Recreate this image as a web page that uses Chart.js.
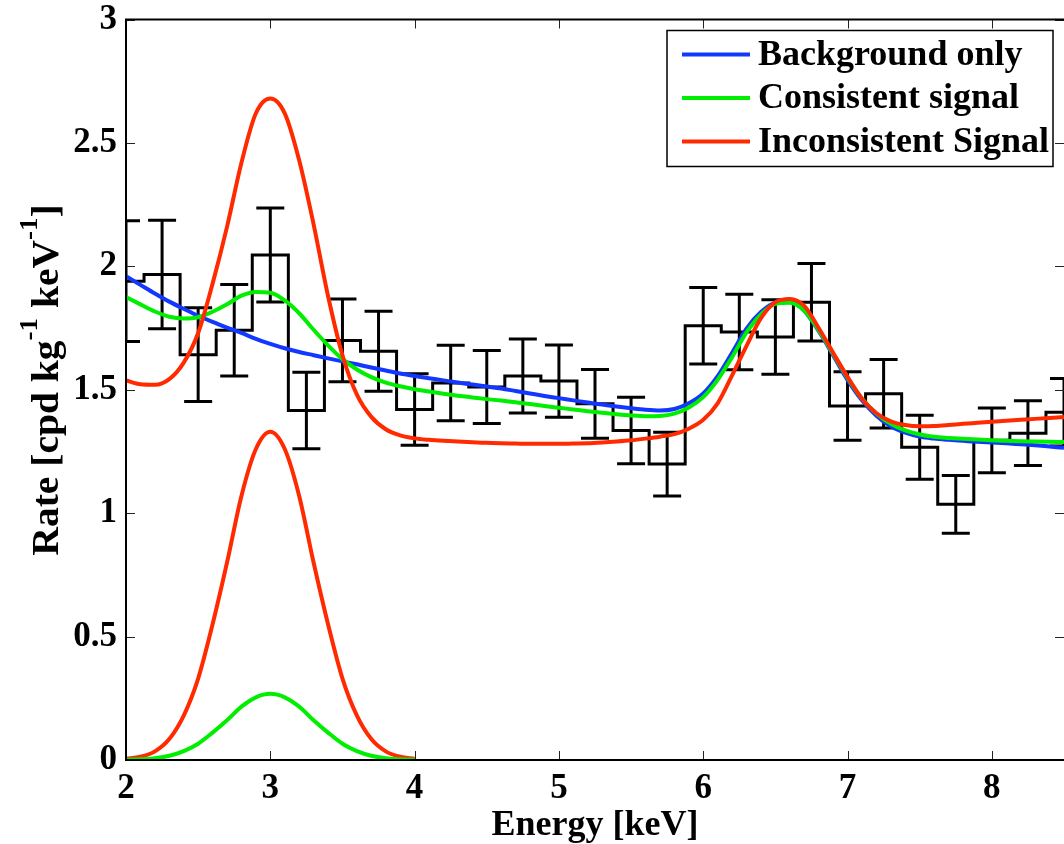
<!DOCTYPE html>
<html>
<head>
<meta charset="utf-8">
<title>Rate vs Energy</title>
<script src="https://cdn.jsdelivr.net/npm/chart.js@4.4.1/dist/chart.umd.min.js"></script>
<style>
  html, body { margin: 0; padding: 0; background: #fff; }
  canvas { display: block; }
</style>
</head>
<body>
<canvas id="spectrum" width="1064" height="844"></canvas>
<script>
// ---------------- data ----------------

// measured histogram (bin centres, rate, half error)
var binCenters = [2.00, 2.25, 2.50, 2.75, 3.00, 3.25, 3.50, 3.75, 4.00, 4.25, 4.50, 4.75, 5.00,
  5.25, 5.50, 5.75, 6.00, 6.25, 6.50, 6.75, 7.00, 7.25, 7.50, 7.75, 8.00, 8.25, 8.50];
var rates = [1.940, 1.967, 1.642, 1.741, 2.046, 1.416, 1.700, 1.656, 1.420, 1.527, 1.511, 1.556, 1.535,
  1.443, 1.335, 1.199, 1.759, 1.734, 1.714, 1.854, 1.434, 1.484, 1.267, 1.036, 1.295, 1.324, 1.409];
var rateErrors = [0.245, 0.220, 0.190, 0.185, 0.190, 0.155, 0.168, 0.162, 0.145, 0.153, 0.148, 0.150, 0.146,
  0.139, 0.135, 0.129, 0.155, 0.153, 0.151, 0.157, 0.139, 0.139, 0.130, 0.117, 0.131, 0.131, 0.137];

// model curves, sampled every 0.1 keV
var curveEnergy = [2.0, 2.1, 2.2, 2.3, 2.4, 2.5, 2.6, 2.7, 2.8, 2.9, 3.0, 3.1, 3.2, 3.3, 3.4, 3.5,
  3.6, 3.7, 3.8, 3.9, 4.0, 4.1, 4.2, 4.3, 4.4, 4.5, 4.6, 4.7, 4.8, 4.9, 5.0, 5.1, 5.2, 5.3, 5.4,
  5.5, 5.6, 5.7, 5.8, 5.9, 6.0, 6.1, 6.2, 6.3, 6.4, 6.5, 6.6, 6.7, 6.8, 6.9, 7.0, 7.1, 7.2, 7.3,
  7.4, 7.5, 7.6, 7.7, 7.8, 7.9, 8.0, 8.1, 8.2, 8.3, 8.4, 8.5];
var backgroundOnly = [1.960, 1.925, 1.890, 1.857, 1.828, 1.800, 1.775, 1.752, 1.730, 1.706, 1.686,
  1.668, 1.653, 1.640, 1.627, 1.615, 1.603, 1.590, 1.578, 1.566, 1.556, 1.547, 1.538, 1.529, 1.521,
  1.513, 1.505, 1.495, 1.485, 1.475, 1.466, 1.457, 1.448, 1.440, 1.432, 1.425, 1.419, 1.416, 1.422,
  1.445, 1.485, 1.555, 1.650, 1.748, 1.815, 1.852, 1.855, 1.820, 1.738, 1.640, 1.540, 1.457, 1.395,
  1.352, 1.326, 1.310, 1.302, 1.297, 1.293, 1.289, 1.286, 1.283, 1.279, 1.275, 1.270, 1.265];
var consistentFit = [1.876, 1.846, 1.817, 1.796, 1.789, 1.794, 1.816, 1.846, 1.881, 1.896, 1.893,
  1.862, 1.810, 1.743, 1.680, 1.624, 1.582, 1.551, 1.529, 1.514, 1.502, 1.493, 1.484, 1.476, 1.469,
  1.462, 1.456, 1.449, 1.442, 1.434, 1.427, 1.420, 1.413, 1.407, 1.401, 1.396, 1.393, 1.394, 1.403,
  1.428, 1.470, 1.540, 1.632, 1.732, 1.805, 1.848, 1.852, 1.820, 1.742, 1.646, 1.548, 1.465, 1.404,
  1.362, 1.335, 1.319, 1.310, 1.305, 1.301, 1.298, 1.295, 1.293, 1.291, 1.290, 1.289, 1.288];
var inconsistentFit = [1.538, 1.522, 1.520, 1.543, 1.610, 1.730, 1.930, 2.160, 2.420, 2.620, 2.680,
  2.620, 2.430, 2.170, 1.880, 1.640, 1.480, 1.390, 1.340, 1.315, 1.303, 1.297, 1.293, 1.290, 1.287,
  1.285, 1.283, 1.282, 1.281, 1.281, 1.281, 1.282, 1.283, 1.286, 1.290, 1.295, 1.302, 1.310, 1.320,
  1.342, 1.378, 1.445, 1.558, 1.678, 1.790, 1.855, 1.868, 1.840, 1.750, 1.650, 1.552, 1.464, 1.405,
  1.372, 1.357, 1.352, 1.353, 1.357, 1.362, 1.366, 1.370, 1.374, 1.378, 1.382, 1.386, 1.390];

// signal lines alone (2 - 4 keV)
var signalEnergy = [2.0, 2.1, 2.2, 2.3, 2.4, 2.5, 2.6, 2.7, 2.8, 2.9, 3.0, 3.1, 3.2, 3.3, 3.4, 3.5,
  3.6, 3.7, 3.8, 3.9, 4.0];
var consistentSignal = [0.001, 0.003, 0.007, 0.017, 0.036, 0.066, 0.111, 0.161, 0.216, 0.254, 0.268,
  0.254, 0.216, 0.161, 0.111, 0.066, 0.036, 0.017, 0.007, 0.003, 0.001];
var inconsistentSignal = [0.005, 0.013, 0.035, 0.085, 0.180, 0.330, 0.550, 0.800, 1.070, 1.260, 1.330,
  1.260, 1.070, 0.800, 0.550, 0.330, 0.180, 0.085, 0.035, 0.013, 0.005];

var seriesNames = ['Background only', 'Consistent signal', 'Inconsistent Signal'];
var xTicks = [2, 3, 4, 5, 6, 7, 8];
var yTicks = [0, 0.5, 1, 1.5, 2, 2.5, 3];

// ---------------- style ----------------
var BLUE = '#1238ff';
var GREEN = '#00ee00';
var RED = '#ff2a00';
var SERIF = '"Liberation Serif", "Times New Roman", "DejaVu Serif", serif';

function toPoints(xs, ys) {
  return xs.map(function (x, i) { return { x: x, y: ys[i] }; });
}

function curve(label, xs, ys, color) {
  return {
    label: label,
    data: toPoints(xs, ys),
    borderColor: color,
    backgroundColor: color,
    borderWidth: 4,
    pointRadius: 0,
    cubicInterpolationMode: 'monotone',
    fill: false
  };
}

// error bars, box, inward ticks, y title and legend
var matlabLook = {
  id: 'matlabLook',
  beforeDatasetsDraw: function (chart) {
    var ctx = chart.ctx, a = chart.chartArea;
    var xs = chart.scales.x, ys = chart.scales.y;
    ctx.save();
    ctx.beginPath();
    ctx.rect(a.left, a.top, a.right - a.left, a.bottom - a.top);
    ctx.clip();
    ctx.strokeStyle = '#000';
    ctx.lineWidth = 3;
    ctx.lineCap = 'butt';
    for (var i = 0; i < binCenters.length; i++) {
      var px = xs.getPixelForValue(binCenters[i]);
      var top = ys.getPixelForValue(rates[i] + rateErrors[i]);
      var bot = ys.getPixelForValue(rates[i] - rateErrors[i]);
      ctx.beginPath();
      ctx.moveTo(px, top); ctx.lineTo(px, bot);
      ctx.moveTo(px - 14, top); ctx.lineTo(px + 14, top);
      ctx.moveTo(px - 14, bot); ctx.lineTo(px + 14, bot);
      ctx.stroke();
    }
    ctx.restore();
  },
  afterDatasetsDraw: function (chart) {
    var ctx = chart.ctx, a = chart.chartArea;
    var xs = chart.scales.x, ys = chart.scales.y;
    ctx.save();
    ctx.strokeStyle = '#222';
    ctx.lineWidth = 1;
    ctx.beginPath();
    xTicks.forEach(function (v) {
      var p = Math.round(xs.getPixelForValue(v)) + 0.5;
      ctx.moveTo(p, a.bottom); ctx.lineTo(p, a.bottom - 9);
      ctx.moveTo(p, a.top); ctx.lineTo(p, a.top + 9);
    });
    yTicks.forEach(function (v) {
      var p = Math.round(ys.getPixelForValue(v)) + 0.5;
      ctx.moveTo(a.left, p); ctx.lineTo(a.left + 9, p);
      ctx.moveTo(a.right, p); ctx.lineTo(a.right - 9, p);
    });
    ctx.stroke();
    // left, bottom and top edges (the right edge falls outside the picture)
    ctx.strokeStyle = '#000';
    ctx.lineWidth = 2;
    ctx.beginPath();
    ctx.moveTo(a.right, a.top); ctx.lineTo(a.left, a.top);
    ctx.lineTo(a.left, a.bottom); ctx.lineTo(a.right, a.bottom);
    ctx.stroke();
    ctx.restore();
  },
  afterDraw: function (chart) {
    var ctx = chart.ctx, a = chart.chartArea;

    // y axis title with superscripts
    var parts = [['Rate [cpd kg', false], ['-1', true], [' keV', false], ['-1', true], [']', false]];
    var big = 'bold 38px ' + SERIF, small = 'bold 26px ' + SERIF;
    ctx.save();
    var total = 0;
    parts.forEach(function (p) { ctx.font = p[1] ? small : big; total += ctx.measureText(p[0]).width; });
    ctx.translate(58, 380);
    ctx.rotate(-Math.PI / 2);
    ctx.scale(1.04, 1);
    ctx.fillStyle = '#000';
    ctx.textBaseline = 'alphabetic';
    var x = -total / 2;
    parts.forEach(function (p) {
      ctx.font = p[1] ? small : big;
      ctx.fillText(p[0], x, p[1] ? -21 : 0);
      x += ctx.measureText(p[0]).width;
    });
    ctx.restore();

    // legend box
    var boxLeft = 667, boxTop = a.top + 11;
    ctx.save();
    ctx.fillStyle = '#fff';
    ctx.fillRect(boxLeft, boxTop, 386, 136);
    ctx.strokeStyle = '#000';
    ctx.lineWidth = 1.5;
    ctx.strokeRect(boxLeft, boxTop, 386, 136);
    ctx.font = 'bold 36px ' + SERIF;
    ctx.textBaseline = 'middle';
    seriesNames.forEach(function (name, i) {
      var ds = chart.data.datasets.filter(function (d) { return d.label === name; })[0];
      var y = boxTop + 24 + i * 43.5;
      ctx.strokeStyle = ds.borderColor;
      ctx.lineWidth = 4;
      ctx.beginPath();
      ctx.moveTo(boxLeft + 15, y); ctx.lineTo(boxLeft + 83, y);
      ctx.stroke();
      ctx.fillStyle = '#000';
      ctx.fillText(name, boxLeft + 91, y + 1);
    });
    ctx.restore();
  }
};

// ---------------- chart ----------------
var datasets = [
  curve('signal consistent', signalEnergy, consistentSignal, GREEN),
  curve('signal inconsistent', signalEnergy, inconsistentSignal, RED),
  curve(seriesNames[2], curveEnergy, inconsistentFit, RED),
  curve(seriesNames[1], curveEnergy, consistentFit, GREEN),
  curve(seriesNames[0], curveEnergy, backgroundOnly, BLUE),
  {
    label: 'data',
    data: toPoints(binCenters, rates),
    stepped: 'middle',
    borderColor: '#000',
    borderWidth: 3,
    pointRadius: 0,
    fill: false
  }
];

// x labels sit below the axis; y labels use a short line height so the
// top label does not push the plot area down
var xTickFont = { family: SERIF, size: 35, weight: 'bold', lineHeight: 1 };
var yTickFont = { family: SERIF, size: 35, weight: 'bold', lineHeight: 0.6 };

new Chart(document.getElementById('spectrum'), {
  type: 'line',
  data: { datasets: datasets },
  plugins: [matlabLook],
  options: {
    responsive: false,
    animation: false,
    devicePixelRatio: 1,
    layout: { padding: { left: 0, right: 0, top: 19, bottom: 0 } },
    plugins: {
      legend: { display: false },
      tooltip: { enabled: false }
    },
    scales: {
      x: {
        type: 'linear',
        min: 2,
        max: 8.5,
        grid: { display: false, drawTicks: false },
        border: { display: false },
        afterFit: function (s) { s.height = 84; },
        afterBuildTicks: function (s) { s.ticks = xTicks.map(function (v) { return { value: v }; }); },
        ticks: {
          color: '#000',
          font: xTickFont,
          padding: 11,
          maxRotation: 0,
          callback: function (v) { return String(v); }
        },
        title: {
          display: true,
          text: 'Energy [keV]',
          color: '#000',
          font: { family: SERIF, size: 36, weight: 'bold', lineHeight: 1 },
          padding: { top: 0, bottom: 0 }
        }
      },
      y: {
        min: 0,
        max: 3,
        grid: { display: false, drawTicks: false },
        border: { display: false },
        afterFit: function (s) { s.width = 126; },
        afterBuildTicks: function (s) { s.ticks = yTicks.map(function (v) { return { value: v }; }); },
        ticks: {
          color: '#000',
          font: yTickFont,
          padding: 9,
          callback: function (v) { return String(v); }
        }
      }
    }
  }
});
</script>
</body>
</html>
